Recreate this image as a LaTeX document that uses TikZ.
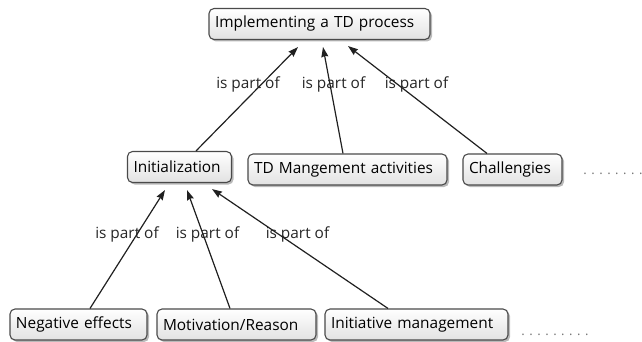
\documentclass[tikz,border=0pt]{standalone}
\usepackage{fontspec}
\setmainfont{Open Sans}
\usetikzlibrary{arrows.meta,shadows,calc}
\definecolor{boxline}{HTML}{4A4A4A}
\definecolor{boxbot}{HTML}{E2E2E2}
\definecolor{arr}{HTML}{202020}
\tikzset{
  cbox/.style={draw=boxline, line width=1.1pt, rounded corners=5pt,
    top color=white, bottom color=boxbot,
    drop shadow={shadow xshift=2pt, shadow yshift=-2pt, opacity=0.45, fill=black!60},
    minimum height=31pt, inner xsep=6pt, inner ysep=0pt,
    text width=#1, align=left, font=\fontsize{15.4}{18}\selectfont},
  rel/.style={draw=arr, line width=1.2pt, -{Stealth[length=10pt,width=7pt,inset=1pt]}},
  lbl/.style={font=\fontsize{15.4}{18}\selectfont, inner sep=0pt, text=black!85},
  dots/.style={font=\fontsize{13}{16}\selectfont, text=black!55, inner sep=0pt}
}
\begin{document}
\begin{tikzpicture}[x=1pt,y=-1pt]
\useasboundingbox (0,0) rectangle (642,342);
\node[cbox=209pt] (top) at (319.5,24) {\mbox{Implementing a TD process}};
\node[cbox=92pt] (init) at (179.5,167) {\mbox{Initialization}};
\node[cbox=187pt] (tdm) at (347.5,169.5) {\mbox{TD Mangement activities}};
\node[cbox=87pt] (chal) at (512.5,169.5) {\mbox{Challengies}};
\node[cbox=125pt] (neg) at (78.5,324.5) {\mbox{Negative effects}};
\node[cbox=147pt] (mot) at (236.5,324.5) {\mbox{Motivation/Reason}};
\node[cbox=171pt] (ini) at (416.5,324.5) {\mbox{Initiative management}};
\node[dots] (d1) at (613,174) {. . . . . . . .};
\node[dots] (d2) at (555,335) {. . . . . . . . .};
\node[lbl] (l1) at (248,84) {is part of};
\node[lbl] (l2) at (333.5,84) {is part of};
\node[lbl] (l3) at (416.5,84) {is part of};
\node[lbl] (l4) at (127,234) {is part of};
\node[lbl] (l5) at (207.5,234) {is part of};
\node[lbl] (l6) at (297.5,234) {is part of};
\draw[rel] ($(init.north)+(16.5,0)$) -- ($(top.south)+(-21.5,7)$);
\draw[rel] ($(tdm.north)+(-4.5,0)$) -- ($(top.south)+(3.5,7)$);
\draw[rel] ($(chal.north)+(-25.5,0)$) -- ($(top.south)+(28.5,6)$);
\draw[rel] ($(neg.north)+(11.5,0)$) -- ($(init.south)+(-14.5,7)$);
\draw[rel] ($(mot.north)+(-6.5,0)$) -- ($(init.south)+(7.5,7)$);
\draw[rel] ($(ini.north)+(-28.5,0)$) -- ($(init.south)+(32.5,6)$);
\end{tikzpicture}
\end{document}
